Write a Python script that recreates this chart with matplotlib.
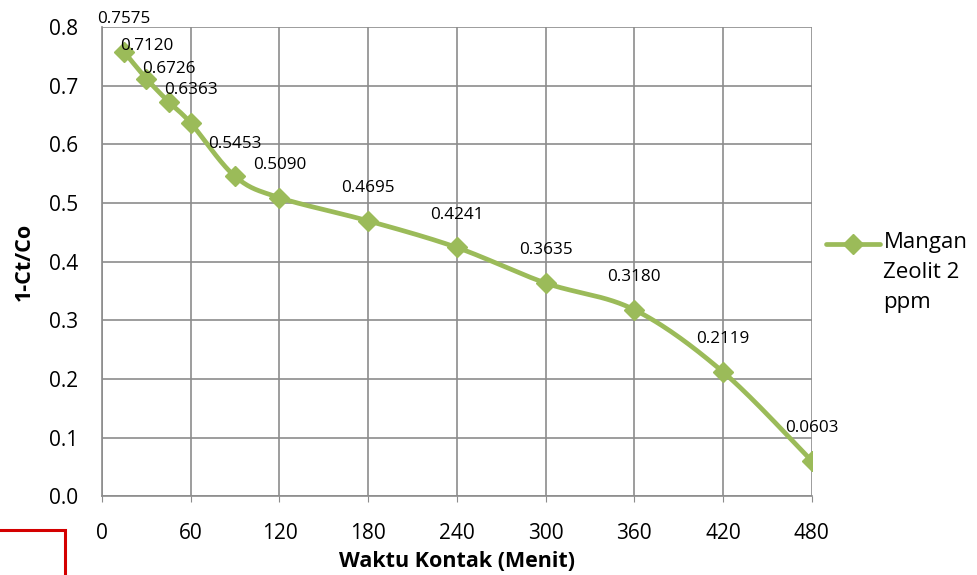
import numpy as np
import matplotlib.pyplot as plt
from matplotlib.patches import Rectangle

# contact time (minutes) and removal fraction
waktu = [15, 30, 45, 60, 90, 120, 180, 240, 300, 360, 420, 480]
efisiensi = [0.7575, 0.7120, 0.6726, 0.6363, 0.5453, 0.5090,
             0.4695, 0.4241, 0.3635, 0.3180, 0.2119, 0.0603]
x_ticks = [0, 60, 120, 180, 240, 300, 360, 420, 480]
y_ticks = [0.0, 0.1, 0.2, 0.3, 0.4, 0.5, 0.6, 0.7, 0.8]
seri = 'Mangan\nZeolit 2\nppm'

plt.rcParams['font.family'] = ['Open Sans', 'DejaVu Sans']
hijau = '#9BBB59'


def smooth(xs, ys, n=30):
    # Catmull-Rom style smoothing like Excel's smoothed line
    xs = np.asarray(xs, float)
    ys = np.asarray(ys, float)
    px = np.concatenate([[xs[0]], xs, [xs[-1]]])
    py = np.concatenate([[ys[0]], ys, [ys[-1]]])
    out_x, out_y = [], []
    t = np.linspace(0, 1, n)
    for i in range(1, len(px) - 2):
        p0 = np.array([px[i], py[i]])
        p3 = np.array([px[i + 1], py[i + 1]])
        c1 = p0 + (np.array([px[i + 1], py[i + 1]]) - np.array([px[i - 1], py[i - 1]])) / 6
        c2 = p3 - (np.array([px[i + 2], py[i + 2]]) - np.array([px[i], py[i]])) / 6
        b = ((1 - t) ** 3)[:, None] * p0 + (3 * (1 - t) ** 2 * t)[:, None] * c1 \
            + (3 * (1 - t) * t ** 2)[:, None] * c2 + (t ** 3)[:, None] * p3
        out_x.extend(b[:, 0])
        out_y.extend(b[:, 1])
    return out_x, out_y


fig = plt.figure(figsize=(9.78, 5.75), dpi=100)
ax = fig.add_axes([0.1043, 0.137, 0.7257, 0.816])

sx, sy = smooth(waktu, efisiensi)
ax.plot(sx, sy, color=hijau, lw=3.4, solid_capstyle='round', zorder=3)
ax.plot(waktu, efisiensi, ls='none', marker='D', ms=10.5, color=hijau, zorder=4)

for xv, yv in zip(waktu, efisiensi):
    ax.annotate(f'{yv:.4f}', (xv, yv), xytext=(0, 23.5), textcoords='offset points',
                ha='center', va='center', fontsize=12.3, zorder=5)

ax.set_xlim(0, 480)
ax.set_ylim(0, 0.8)
ax.set_xticks(x_ticks)
ax.set_yticks(y_ticks)
ax.set_yticklabels([f'{v:.1f}' for v in y_ticks])
ax.grid(True, color='#8c8c8c', lw=1.2)
ax.set_axisbelow(True)
for s in ['top', 'right']:
    ax.spines[s].set_visible(False)
for s in ['left', 'bottom']:
    ax.spines[s].set_color('#8c8c8c')
    ax.spines[s].set_linewidth(1.2)
ax.tick_params(axis='x', length=4, color='#8c8c8c', labelsize=15, pad=15)
ax.tick_params(axis='y', length=0, labelsize=15, pad=17)
ax.set_xlabel('Waktu Kontak (Menit)', fontsize=15.5, fontweight='bold', labelpad=5)
ax.set_ylabel('1-Ct/Co', fontsize=15.5, fontweight='bold', labelpad=10)

# legend key: handle aligned with first line of the series name
ax.plot([1.02, 1.096], [0.537, 0.537], transform=ax.transAxes, clip_on=False,
        color=hijau, lw=3.4, solid_capstyle='round')
ax.plot([1.058], [0.537], transform=ax.transAxes, clip_on=False,
        marker='D', ms=10.5, color=hijau)
ax.text(1.101, 0.563, seri, transform=ax.transAxes, ha='left', va='top',
        fontsize=16, linespacing=1.55, clip_on=False)

fig.patches.append(Rectangle((-0.01, -0.01), 0.076, 0.088, transform=fig.transFigure,
                             fill=False, edgecolor='#d40000', lw=2.2))

fig.savefig('out.png', dpi=100)
